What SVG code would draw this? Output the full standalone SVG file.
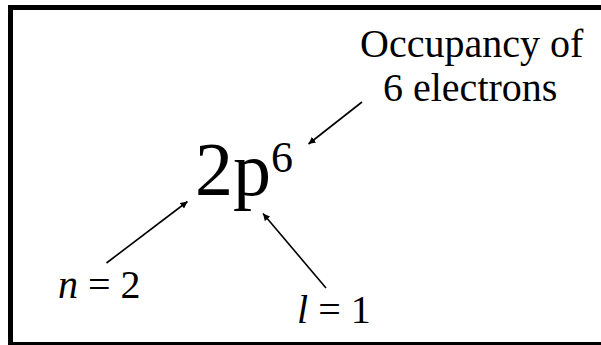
<svg xmlns="http://www.w3.org/2000/svg" width="601" height="345" viewBox="0 0 601 345">
<defs>
<style>
.conn line{stroke:#000;stroke-width:1.6}
</style>
<marker id="ah" viewBox="0 0 10 10" refX="10" refY="5" markerWidth="7" markerHeight="7" markerUnits="userSpaceOnUse" orient="auto">
<path d="M0,0 L10,5 L0,10 z" fill="#000"/>
</marker>
</defs>
<rect x="0" y="0" width="601" height="345" fill="#fff"/>
<rect x="10.5" y="7.5" width="620" height="337" fill="none" stroke="#000" stroke-width="5"/>
<g font-family="Liberation Serif, Times New Roman, DejaVu Serif, serif" fill="#000">
<g id="orbital"><text x="195" y="195" font-size="76">2p<tspan font-size="44" dy="-23">6</tspan></text></g>
<g id="occupancy"><text font-size="40" x="360" y="57">Occupancy of</text><text font-size="40" x="383" y="101">6 electrons</text></g>
<g id="n"><text font-size="40" x="58" y="298"><tspan font-style="italic">n</tspan> = 2</text></g>
<g id="l"><text font-size="40" x="297" y="323"><tspan font-style="italic">l</tspan> = 1</text></g>
</g>
<g id="connectors" class="conn">
<line x1="362" y1="102" x2="308.5" y2="144" marker-end="url(#ah)"/>
<line x1="106.5" y1="263" x2="187.5" y2="201.5" marker-end="url(#ah)"/>
<line x1="326" y1="288" x2="263" y2="213.5" marker-end="url(#ah)"/>
</g>
</svg>
